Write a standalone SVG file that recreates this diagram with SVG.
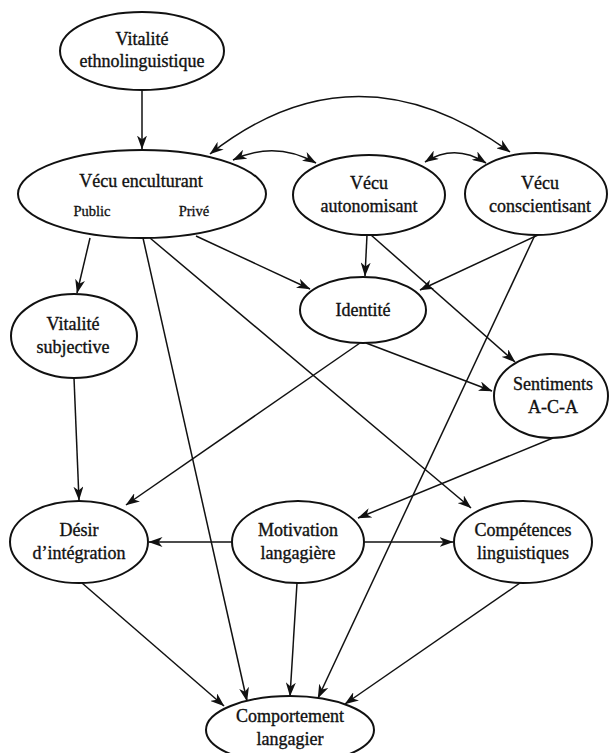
<svg xmlns="http://www.w3.org/2000/svg" width="609" height="753" viewBox="0 0 609 753">
<defs>
<marker id="ah" viewBox="0 0 14 10" refX="13.5" refY="5" markerWidth="14" markerHeight="10" markerUnits="userSpaceOnUse" orient="auto-start-reverse">
<path d="M0,0 L14,5 L0,10 L4,5 z" fill="#111"/>
</marker>
<style>
.n ellipse{fill:#fff;stroke:#111;stroke-width:2}
.n text{font-family:"Liberation Serif","DejaVu Serif",serif;font-size:18px;fill:#111;text-anchor:middle;stroke:#111;stroke-width:0.35}
.n text.s{font-size:14.5px;stroke-width:0.3}
#edges path, #edges line{fill:none;stroke:#111;stroke-width:1.5}
.a{marker-end:url(#ah)}
.b{marker-start:url(#ah);marker-end:url(#ah)}
</style>
</defs>
<rect width="609" height="753" fill="#fff"/>
<g id="edges">
<line class="a" x1="142" y1="91" x2="142" y2="149"/>
<path class="b" d="M210,154 Q355,40 510,152"/>
<path class="b" d="M233,160 Q275,140 316,163"/>
<path class="b" d="M425,162 Q455,143 486,163"/>
<line class="a" x1="90" y1="238" x2="77" y2="293"/>
<line class="a" x1="143" y1="238" x2="247" y2="701"/>
<line class="a" x1="150" y1="238" x2="471" y2="508"/>
<line class="a" x1="196" y1="236" x2="310" y2="289"/>
<line class="a" x1="367" y1="235" x2="365" y2="276"/>
<line class="a" x1="371" y1="235" x2="515" y2="362"/>
<line class="a" x1="538" y1="235" x2="420" y2="290"/>
<line class="a" x1="535" y1="235" x2="318" y2="698"/>
<line class="a" x1="360" y1="343" x2="126" y2="505"/>
<line class="a" x1="366" y1="343" x2="492" y2="391"/>
<line class="a" x1="553" y1="438" x2="358" y2="518"/>
<line class="a" x1="74" y1="378" x2="79" y2="500"/>
<line class="a" x1="232" y1="542" x2="149" y2="542"/>
<line class="a" x1="364" y1="542" x2="453" y2="542"/>
<line class="a" x1="82" y1="583" x2="224" y2="706"/>
<line class="a" x1="297" y1="583" x2="290" y2="696"/>
<line class="a" x1="520" y1="583" x2="345" y2="704"/>
</g>
<g id="n-vitalite-ethno" class="n"><ellipse cx="142" cy="51" rx="82" ry="39"/><text x="142" y="45">Vitalité</text><text x="142" y="67">ethnolinguistique</text></g>
<g id="n-vecu-enc" class="n"><ellipse cx="142" cy="194" rx="124" ry="44"/><text x="141" y="187">Vécu enculturant</text><text class="s" x="92" y="216">Public</text><text class="s" x="194" y="216">Privé</text></g>
<g id="n-vecu-auto" class="n"><ellipse cx="369" cy="195" rx="76" ry="40"/><text x="369" y="189">Vécu</text><text x="369" y="212">autonomisant</text></g>
<g id="n-vecu-consc" class="n"><ellipse cx="536" cy="194" rx="71" ry="41"/><text x="540" y="189">Vécu</text><text x="540" y="212">conscientisant</text></g>
<g id="n-identite" class="n"><ellipse cx="363" cy="310" rx="63" ry="33"/><text x="363" y="316">Identité</text></g>
<g id="n-vitalite-subj" class="n"><ellipse cx="74" cy="336" rx="63" ry="42"/><text x="73" y="330">Vitalité</text><text x="73" y="353">subjective</text></g>
<g id="n-sentiments" class="n"><ellipse cx="551" cy="396" rx="57" ry="42"/><text x="553" y="390">Sentiments</text><text x="553" y="413">A-C-A</text></g>
<g id="n-desir" class="n"><ellipse cx="79" cy="542" rx="69" ry="41"/><text x="79" y="536">Désir</text><text x="79" y="559">d’intégration</text></g>
<g id="n-motivation" class="n"><ellipse cx="298" cy="542" rx="66" ry="41"/><text x="298" y="536">Motivation</text><text x="298" y="559">langagière</text></g>
<g id="n-competences" class="n"><ellipse cx="523" cy="542" rx="69" ry="41"/><text x="523" y="536">Compétences</text><text x="523" y="559">linguistiques</text></g>
<g id="n-comportement" class="n"><ellipse cx="290" cy="730" rx="84" ry="34"/><text x="290" y="722">Comportement</text><text x="290" y="745">langagier</text></g>
</svg>
